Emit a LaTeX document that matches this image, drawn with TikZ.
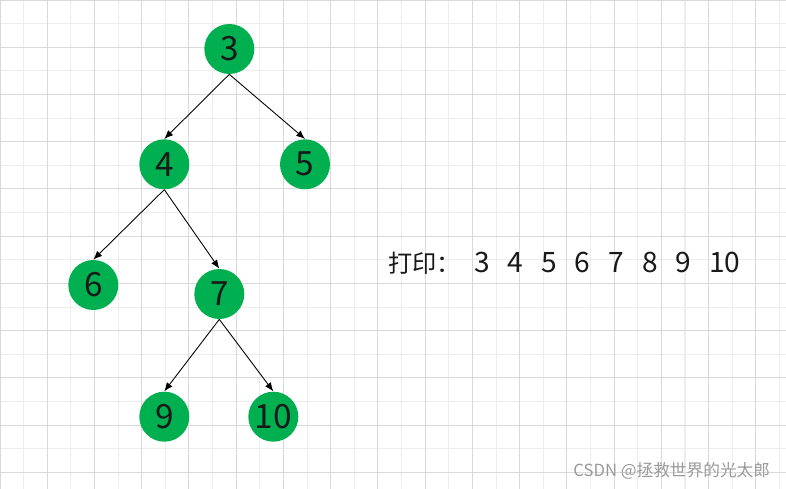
\documentclass[tikz,border=0pt]{standalone}
\usepackage{fontspec}
\setmainfont{Noto Sans CJK SC}
\usetikzlibrary{arrows.meta}
\definecolor{nodecol}{HTML}{00B050}
\definecolor{majorcol}{HTML}{D9D9D9}
\definecolor{minorcol}{HTML}{EDEDED}
\definecolor{markcol}{HTML}{9A9A9A}
\tikzset{
  vnode/.style={circle, fill=nodecol, minimum size=1cm, inner sep=0pt, font=\fontsize{19}{22}\selectfont, text=black!90},
  majorline/.style={draw=majorcol, line width=0.6pt},
  minorline/.style={draw=minorcol, line width=0.6pt},
}
\newcommand\outdigit[1]{\makebox[19.1pt][l]{#1}}

\begin{document}
\begin{tikzpicture}[x=0.02cm, y=-0.02cm, >={Latex[length=5pt, width=4pt]}]
  \useasboundingbox (0,0) rectangle (786,489);
  \fill[white] (0,0) rectangle (786,489);
  % grid
  \foreach \i in {1,3,...,33} \draw[minorline] (\i*23.62,0) -- (\i*23.62,489);
  \foreach \i in {1,3,...,21} \draw[minorline] (0,\i*23.62) -- (786,\i*23.62);
  \foreach \i in {0,2,...,32} \draw[majorline] (\i*23.62,0) -- (\i*23.62,489);
  \foreach \i in {0,2,...,20} \draw[majorline] (0,\i*23.62) -- (786,\i*23.62);
  % tree
  \node[vnode] (N3)  at (229.3, 49)   {3};
  \node[vnode] (N4)  at (164.3, 164.3) {4};
  \node[vnode] (N5)  at (305,   164.3) {5};
  \node[vnode] (N6)  at (93.3,  285)   {6};
  \node[vnode] (N7)  at (219.3, 294)   {7};
  \node[vnode] (N9)  at (164.3, 416.7) {9};
  \node[vnode] (N10) at (273.3, 416.7) {10};
  \draw[->, line width=0.5pt] (N3.south) -- (N4.north);
  \draw[->, line width=0.5pt] (N3.south) -- (N5.north);
  \draw[->, line width=0.5pt] (N4.south) -- (N6.north);
  \draw[->, line width=0.5pt] (N4.south) -- (N7.north);
  \draw[->, line width=0.5pt] (N7.south) -- (N9.north);
  \draw[->, line width=0.5pt] (N7.south) -- (N10.north);
  % output
  \node[anchor=base west, inner sep=0pt, font=\fontsize{13.8}{16}\selectfont, text=black!90] (print) at (388,272.3)
    {打印：\hspace{7.5pt}{\fontsize{16}{18}\selectfont\outdigit{3}\outdigit{4}\outdigit{5}\outdigit{6}\outdigit{7}\outdigit{8}\outdigit{9}10}};
  \node[anchor=base west, inner sep=0pt, font=\fontsize{9.5}{11}\selectfont, text=markcol] (mark) at (573,476)
    {CSDN @拯救世界的光太郎};
\end{tikzpicture}
\end{document}
